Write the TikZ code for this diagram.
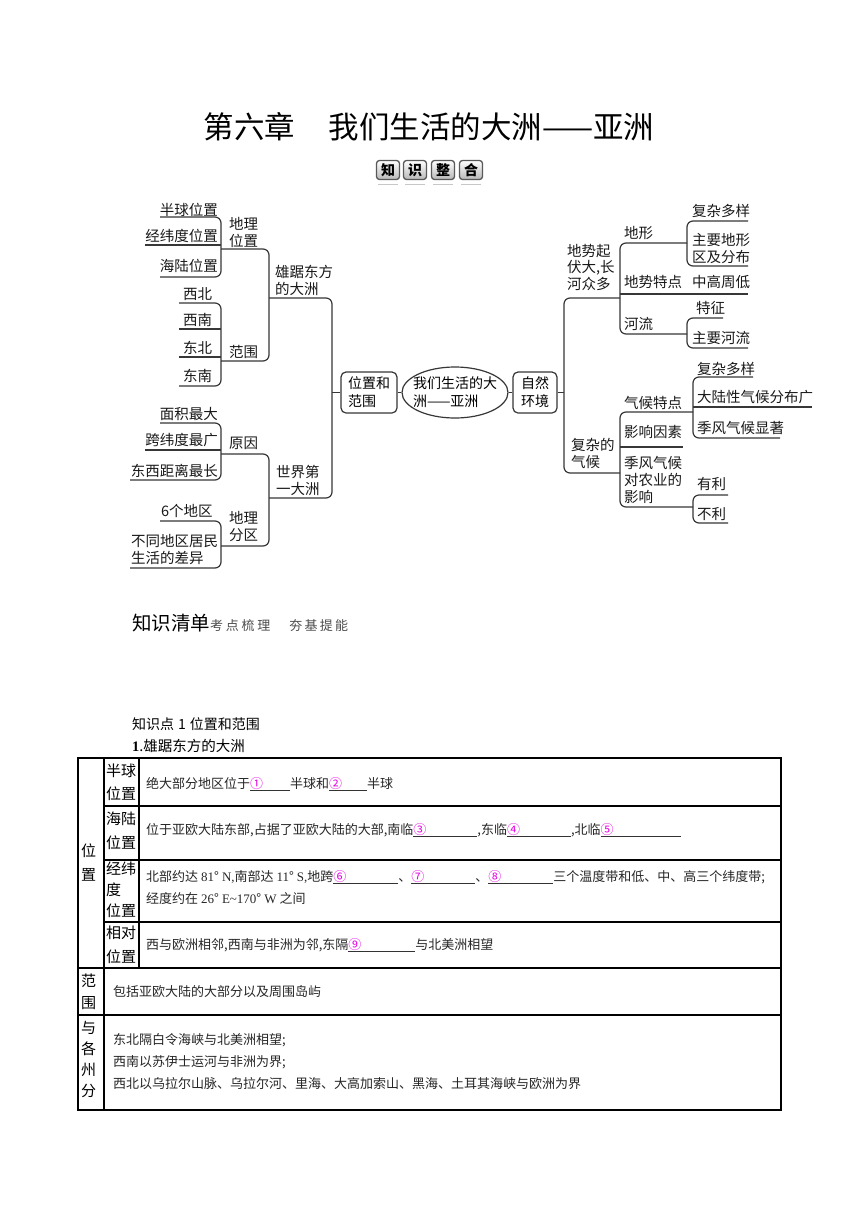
\documentclass[tikz,border=0pt]{standalone}
\usepackage{fontspec}
\setmainfont{Noto Sans CJK SC}
\newfontfamily\lat{Liberation Serif}
\usetikzlibrary{shapes.geometric}
\definecolor{cmag}{RGB}{230,0,230}
\definecolor{lnc}{RGB}{55,55,55}
\newcommand\mlb[2][17pt]{\vbox{\baselineskip=#1\lineskiplimit=-100pt\halign{##\hfil\cr#2\crcr}}}
\newcommand\mlt[2][17pt]{\vtop{\baselineskip=#1\lineskiplimit=-100pt\halign{##\hfil\cr#2\crcr}}}
\newcommand\blk[2]{\setbox0\hbox{\textcolor{cmag}{#1}\hspace{#2}}\rlap{\color{black!80}\rule[-2.5pt]{\wd0}{0.8pt}}\box0}
\tikzset{
  mm/.style={inner sep=0pt, font=\fontsize{14.5}{17}\selectfont, text=black!90},
  mmline/.style={draw=lnc, line width=1.2pt, rounded corners=6pt},
  cbox/.style={draw=lnc, line width=1.2pt, rounded corners=5pt, inner sep=0pt, align=left, font=\fontsize{14}{18}\selectfont},
  tlab/.style={inner sep=0pt, font=\fontsize{15}{23}\selectfont, anchor=base west},
  tcon/.style={inner sep=0pt, font=\fontsize{13}{22}\selectfont, anchor=base west, text=black!85},
  badge/.style={draw=black!65, line width=1.3pt, rounded corners=3pt, top color=white, bottom color=black!28,
    minimum width=23pt, minimum height=19pt, inner sep=0pt, font=\fontsize{14}{15}\selectfont\bfseries}
}
\begin{document}
\begin{tikzpicture}[x=1pt,y=-1pt]
\path[use as bounding box, fill=white] (0,0) rectangle (860,1216);

% ---------- title ----------
\node[inner sep=0pt, anchor=base, font=\fontsize{30.5}{31}\selectfont] (title) at (429,138) {第六章\hspace{1.1em}我们生活的大洲——亚洲};
\foreach \c/\x/\n in {知/388/b1, 识/415/b2, 整/443/b3, 合/471/b4}{
  \node[badge] (\n) at (\x,170) {\c};
  \draw[black!22, line width=1pt] (\x-10,184) -- (\x+10,184);
}

% ---------- mind map: left ----------
\node[mm, anchor=base east] (hq) at (218,215) {半球位置};
\node[mm, anchor=base east] (jw) at (218,241) {经纬度位置};
\node[mm, anchor=base east] (hl) at (218,271) {海陆位置};
\node[mm, anchor=base west] (xb) at (183,299) {西北};
\node[mm, anchor=base west] (xn) at (183,325) {西南};
\node[mm, anchor=base west] (db) at (183,353) {东北};
\node[mm, anchor=base west] (dn) at (183,381) {东南};
\node[mm, anchor=base east] (mj) at (218,419) {面积最大};
\node[mm, anchor=base east] (kw) at (218,445) {跨纬度最广};
\node[mm, anchor=base east] (dxl) at (218,476) {东西距离最长};
\node[mm, anchor=base west] (lg) at (161,516) {6个地区};
\node[mm, anchor=base west] (bt) at (131,563) {\mlb{不同地区居民\cr 生活的差异}};
\node[mm, anchor=base west] (dlwz) at (229,246) {\mlb{地理\cr 位置}};
\node[mm, anchor=base west] (fw) at (229,357) {范围};
\node[mm, anchor=base west] (xj) at (275,294) {\mlb{雄踞东方\cr 的大洲}};
\node[mm, anchor=base west] (yy) at (229,448) {原因};
\node[mm, anchor=base west] (dlfq) at (229,540) {\mlb{地理\cr 分区}};
\node[mm, anchor=base west] (sj) at (276,494) {\mlb{世界第\cr 一大洲}};

% ---------- mind map: centre ----------
\node[cbox, minimum width=56pt, minimum height=41pt] (A) at (369,392.5) {位置和\\范围};
\node[draw=lnc, line width=1.2pt, ellipse, minimum width=106pt, minimum height=51pt, inner xsep=-8pt, inner ysep=-2pt,
      align=left, font=\fontsize{14}{18}\selectfont] (E) at (455,392.5) {我们生活的大\\洲——亚洲};
\node[cbox, minimum width=44pt, minimum height=41pt] (B) at (535,392.5) {自然\\环境};

% ---------- mind map: right ----------
\node[mm, anchor=base west] (dsq) at (567,289) {\mlb[16.5pt]{地势起\cr 伏大,长\cr 河众多}};
\node[mm, anchor=base west] (fzqh) at (571,467) {\mlb{复杂的\cr 气候}};
\node[mm, anchor=base west] (dxg) at (624,238) {地形};
\node[mm, anchor=base west] (dstd) at (624,287) {地势特点};
\node[mm, anchor=base west] (hlw) at (624,329) {河流};
\node[mm, anchor=base west] (fz1) at (692,216) {复杂多样};
\node[mm, anchor=base west] (zy) at (692,262) {\mlb{主要地形\cr 区及分布}};
\node[mm, anchor=base west] (zg) at (692,287) {中高周低};
\node[mm, anchor=base west] (tz) at (696,313) {特征};
\node[mm, anchor=base west] (zyhl) at (692,343) {主要河流};
\node[mm, anchor=base west] (qhtd) at (624,408) {气候特点};
\node[mm, anchor=base west] (yxys) at (624,437) {影响因素};
\node[mm, anchor=base west] (jf) at (624,502) {\mlb{季风气候\cr 对农业的\cr 影响}};
\node[mm, anchor=base west] (fz2) at (697,374) {复杂多样};
\node[mm, anchor=base west] (dlx) at (697,402) {大陆性气候分布广};
\node[mm, anchor=base west] (jfxz) at (697,433) {季风气候显著};
\node[mm, anchor=base west] (yl) at (697,489) {有利};
\node[mm, anchor=base west] (bl) at (697,519) {不利};

% ---------- brackets ----------
\draw[mmline] (160,217) -- (221,217) -- (221,277) -- (160,277);
\draw[mmline] (145,245) -- (221,245);
\draw[mmline] (179,303) -- (221,303) -- (221,386) -- (179,386);
\draw[mmline] (179,329) -- (221,329);
\draw[mmline] (179,357) -- (221,357);
\draw[mmline] (221,249) -- (269,249) -- (269,361) -- (221,361);
\draw[mmline] (160,423) -- (221,423) -- (221,480) -- (130,480);
\draw[mmline] (145,450) -- (221,450);
\draw[mmline] (160,521) -- (221,521) -- (221,568) -- (130,568);
\draw[mmline] (221,454) -- (269,454) -- (269,546) -- (221,546);
\draw[mmline] (269,298) -- (332,298) -- (332,498) -- (269,498);
\draw[mmline] (A.west) -- (332,392.5);
\draw[mmline] (A.east) -- (E.west);
\draw[mmline] (E.east) -- (B.west);
\draw[mmline] (B.east) -- (564,392.5);
\draw[mmline] (620,298) -- (564,298) -- (564,473) -- (620,473);
\draw[mmline] (687,243) -- (620,243) -- (620,334) -- (687,334);
\draw[mmline] (620,294) -- (748,294);
\draw[mmline] (748,221) -- (687,221) -- (687,266) -- (748,266);
\draw[mmline] (723,318) -- (687,318) -- (687,348) -- (748,348);
\draw[mmline] (693,412) -- (620,412) -- (620,507) -- (693,507);
\draw[mmline] (620,447) -- (683,447);
\draw[mmline] (753,377) -- (693,377) -- (693,438) -- (780,438);
\draw[mmline] (693,407) -- (812,407);
\draw[mmline] (728,495) -- (693,495) -- (693,523) -- (728,523);

% ---------- section headings ----------
\node[inner sep=0pt, anchor=base west] (sec) at (132,630) {\fontsize{19.5}{20}\selectfont 知识清单\fontsize{13}{14}\selectfont\color{black!70}考\hspace{2.7pt}点\hspace{2.7pt}梳\hspace{2.7pt}理\hspace{19pt}夯\hspace{2.3pt}基\hspace{2.3pt}提\hspace{2.3pt}能};
\node[inner sep=0pt, anchor=base west, font=\fontsize{14}{16}\selectfont] (kp) at (132,729) {知识点\hspace{4pt}1\hspace{4pt}位置和范围};
\node[inner sep=0pt, anchor=base west, font=\fontsize{14.5}{16}\selectfont] (s1) at (132,751) {{\lat\bfseries 1}.雄踞东方的大洲};

% ---------- table ----------
\draw[line width=2.8pt] (78,758) rectangle (781,1110);
\draw[line width=1.5pt] (104,758) -- (104,1110);
\draw[line width=2pt] (139,758) -- (139,968);
\draw[line width=1.8pt] (104,806) -- (781,806);
\draw[line width=1.8pt] (104,860) -- (781,860);
\draw[line width=1.8pt] (104,922) -- (781,922);
\draw[line width=2pt] (78,968) -- (781,968);
\draw[line width=2pt] (78,1015) -- (781,1015);

\node[tlab] (lb0) at (81,856.5) {\mlt[24pt]{位\cr 置}};
\node[tlab] (lb1) at (106,776.5) {\mlt[23pt]{半球\cr 位置}};
\node[tlab] (lb2) at (106,824.5) {\mlt[24pt]{海陆\cr 位置}};
\node[tlab] (lb3) at (106,874) {\mlt[21pt]{经纬\cr 度\cr 位置}};
\node[tlab] (lb4) at (106,938) {\mlt[24pt]{相对\cr 位置}};
\node[tlab] (lb5) at (81,986.5) {\mlt[22pt]{范\cr 围}};
\node[tlab] (lb6) at (81,1033.5) {\mlt[21pt]{与\cr 各\cr 州\cr 分}};

\node[tcon] (r1) at (146,788) {绝大部分地区位于\blk{①}{27pt}半球和\blk{②}{25pt}半球};
\node[tcon] (r2) at (146,834) {位于亚欧大陆东部,占据了亚欧大陆的大部,南临\blk{③}{51pt},东临\blk{④}{51pt},北临\blk{⑤}{67pt}};
\node[tcon] (r3a) at (146,881) {北部约达\hspace{3pt}{\lat 81}°\hspace{3pt}{\lat N,}南部达\hspace{3pt}{\lat 11}°\hspace{3pt}{\lat S,}地跨\blk{⑥}{52pt}、\blk{⑦}{51pt}、\blk{⑧}{52pt}三个温度带和低、中、高三个纬度带;};
\node[tcon] (r3b) at (146,903) {经度约在\hspace{3pt}{\lat 26}°\hspace{3pt}{\lat E\textasciitilde 170}°\hspace{3pt}{\lat W}\hspace{3pt}之间};
\node[tcon] (r4) at (146,949) {西与欧洲相邻,西南与非洲为邻,东隔\blk{⑨}{54pt}与北美洲相望};
\node[tcon] (r5) at (113,996) {包括亚欧大陆的大部分以及周围岛屿};
\node[tcon] (r6a) at (113,1044) {东北隔白令海峡与北美洲相望;};
\node[tcon] (r6b) at (113,1066) {西南以苏伊士运河与非洲为界;};
\node[tcon] (r6c) at (113,1088) {西北以乌拉尔山脉、乌拉尔河、里海、大高加索山、黑海、土耳其海峡与欧洲为界};
\end{tikzpicture}
\end{document}
